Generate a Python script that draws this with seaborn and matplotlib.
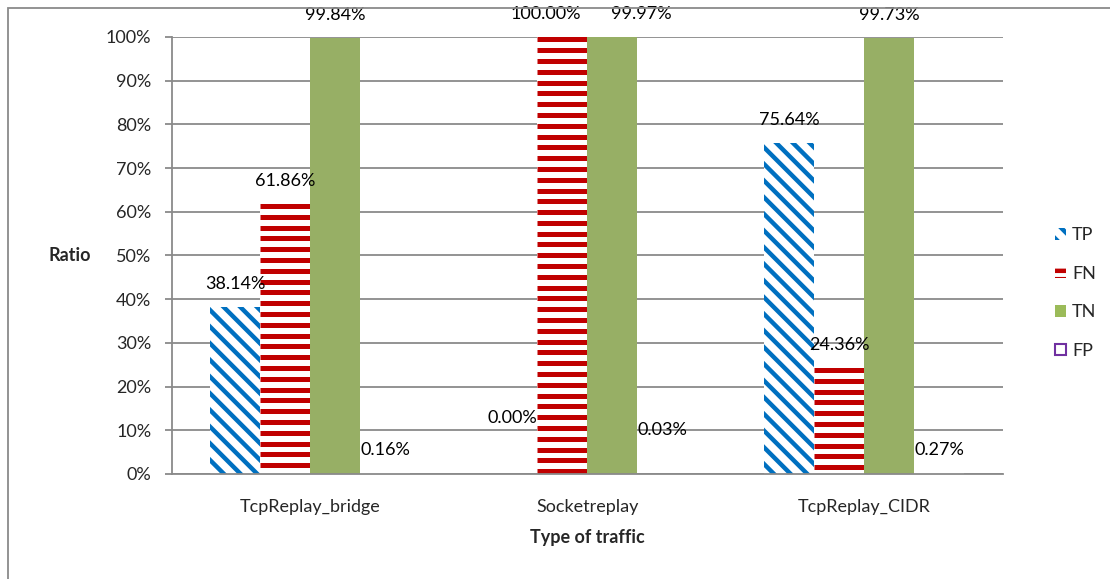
import matplotlib
matplotlib.use("Agg")
import matplotlib.pyplot as plt
from matplotlib.patches import Patch, Rectangle
from matplotlib.collections import LineCollection
from matplotlib.ticker import FuncFormatter, FixedLocator
import seaborn as sns
import pandas as pd

# ---- data ----
categories = ["TcpReplay_bridge", "Socketreplay", "TcpReplay_CIDR"]
metrics = ["TP", "FN", "TN", "FP"]
tp_values = [38.14, 0.00, 75.64]
fn_values = [61.86, 100.00, 24.36]
tn_values = [99.84, 99.97, 99.73]
fp_values = [0.16, 0.03, 0.27]
y_ticks = list(range(0, 101, 10))

series = {"TP": tp_values, "FN": fn_values, "TN": tn_values, "FP": fp_values}
rows = []
for m in metrics:
    for c, v in zip(categories, series[m]):
        rows.append({"Type of traffic": c, "Metric": m, "Ratio": v})
df = pd.DataFrame(rows)

# ---- style ----
sns.set_style("white")
plt.rcParams["font.family"] = ["Lato", "DejaVu Sans"]
plt.rcParams["hatch.linewidth"] = 3.2
FS = 13
GRAY = "#8a8a8a"
BLUE = "#0070C0"
RED = "#C00000"
GREEN = "#9BBB59"
PURPLE = "#7030A0"

fig = plt.figure(figsize=(11.1, 5.79), dpi=100)
ax = fig.add_axes([0.15495, 0.18135, 0.74865, 0.75475])

sns.barplot(data=df, x="Type of traffic", y="Ratio", hue="Metric",
            hue_order=metrics, order=categories, width=0.722, gap=0,
            errorbar=None, legend=False, ax=ax,
            palette={"TP": "white", "FN": "white", "TN": GREEN, "FP": "white"})

cont = dict(zip(metrics, ax.containers))

# TP: blue downward-diagonal stripes
for bar in cont["TP"]:
    bar.set_facecolor("white")
    bar.set_edgecolor(BLUE)
    bar.set_linewidth(0)
    bar.set_hatch("\\\\")

# FN: red horizontal stripes clipped to each bar
stripe_step = 2.47
for bar in cont["FN"]:
    bar.set_linewidth(0)
    x0, w, h = bar.get_x(), bar.get_width(), bar.get_height()
    segs = []
    y = h - 0.55
    while y > -1:
        segs.append([(x0, y), (x0 + w, y)])
        y -= stripe_step
    lc = LineCollection(segs, colors=RED, linewidths=3.6, zorder=bar.get_zorder() + 0.1)
    ax.add_collection(lc)
    lc.set_clip_path(bar)

for bar in cont["TN"]:
    bar.set_linewidth(0)
for bar in cont["FP"]:
    bar.set_linewidth(0)

# ---- value labels ----
label_shift = {("FN", 1): (-17, 0), ("TN", 1): (29, 0),
               ("TP", 1): (0, 33), ("FP", 1): (0, 21)}
for m in metrics:
    for i, bar in enumerate(cont[m]):
        v = series[m][i]
        dx, dy = label_shift.get((m, i), (0, 0))
        ax.annotate(f"{v:.2f}%",
                    xy=(bar.get_x() + bar.get_width() / 2, v),
                    xytext=((dx) * 0.72, (23 + dy) * 0.72),
                    textcoords="offset points", ha="center", va="center",
                    fontsize=FS, color="black", annotation_clip=False, zorder=5)

# ---- axes ----
ax.set_xlim(-0.5, len(categories) - 0.5)
ax.set_ylim(0, 100)
ax.yaxis.set_major_locator(FixedLocator(y_ticks))
ax.yaxis.set_major_formatter(FuncFormatter(lambda v, p: f"{v:.0f}%"))
ax.yaxis.grid(True, color=GRAY, linewidth=1.3)
ax.xaxis.grid(False)
ax.set_axisbelow(True)
ax.xaxis.set_minor_locator(FixedLocator([-0.5, 0.5, 1.5, 2.5]))
ax.tick_params(axis="x", which="major", length=0, pad=18, labelsize=FS)
ax.tick_params(axis="x", which="minor", length=5, width=1.3, color=GRAY, direction="out")
ax.tick_params(axis="y", which="major", length=5, width=1.3, color=GRAY,
               direction="out", pad=10, labelsize=FS, left=True)
for s in ["top", "right"]:
    ax.spines[s].set_visible(False)
for s in ["left", "bottom"]:
    ax.spines[s].set_color(GRAY)
    ax.spines[s].set_linewidth(1.3)

ax.set_xlabel("Type of traffic", fontsize=FS, fontweight="bold", labelpad=10)
ax.set_ylabel("Ratio", fontsize=FS, fontweight="bold", rotation=0, ha="center", va="center")
ax.yaxis.set_label_coords(-0.123, 0.5)

# ---- legend ----
handles = [
    Patch(facecolor="white", edgecolor=BLUE, linewidth=0, hatch="\\\\"),
    Patch(facecolor="white", edgecolor=RED, linewidth=0, hatch="--"),
    Patch(facecolor=GREEN, edgecolor=GREEN, linewidth=0),
    Patch(facecolor="white", edgecolor=PURPLE, linewidth=1.5),
]
fig.legend(handles, metrics, loc="center left", bbox_to_anchor=(1046 / 1110, 1 - 293 / 579),
           frameon=False, fontsize=FS, handlelength=0.6, handleheight=0.6,
           handletextpad=0.35, labelspacing=1.25, borderpad=0)

# ---- outer chart border ----
fig.add_artist(Rectangle((8 / 1110, -0.2), 1.5, 1.2 - 8 / 579, transform=fig.transFigure,
                         fill=False, edgecolor=GRAY, linewidth=1.3))

fig.savefig("out.png", dpi=100)
